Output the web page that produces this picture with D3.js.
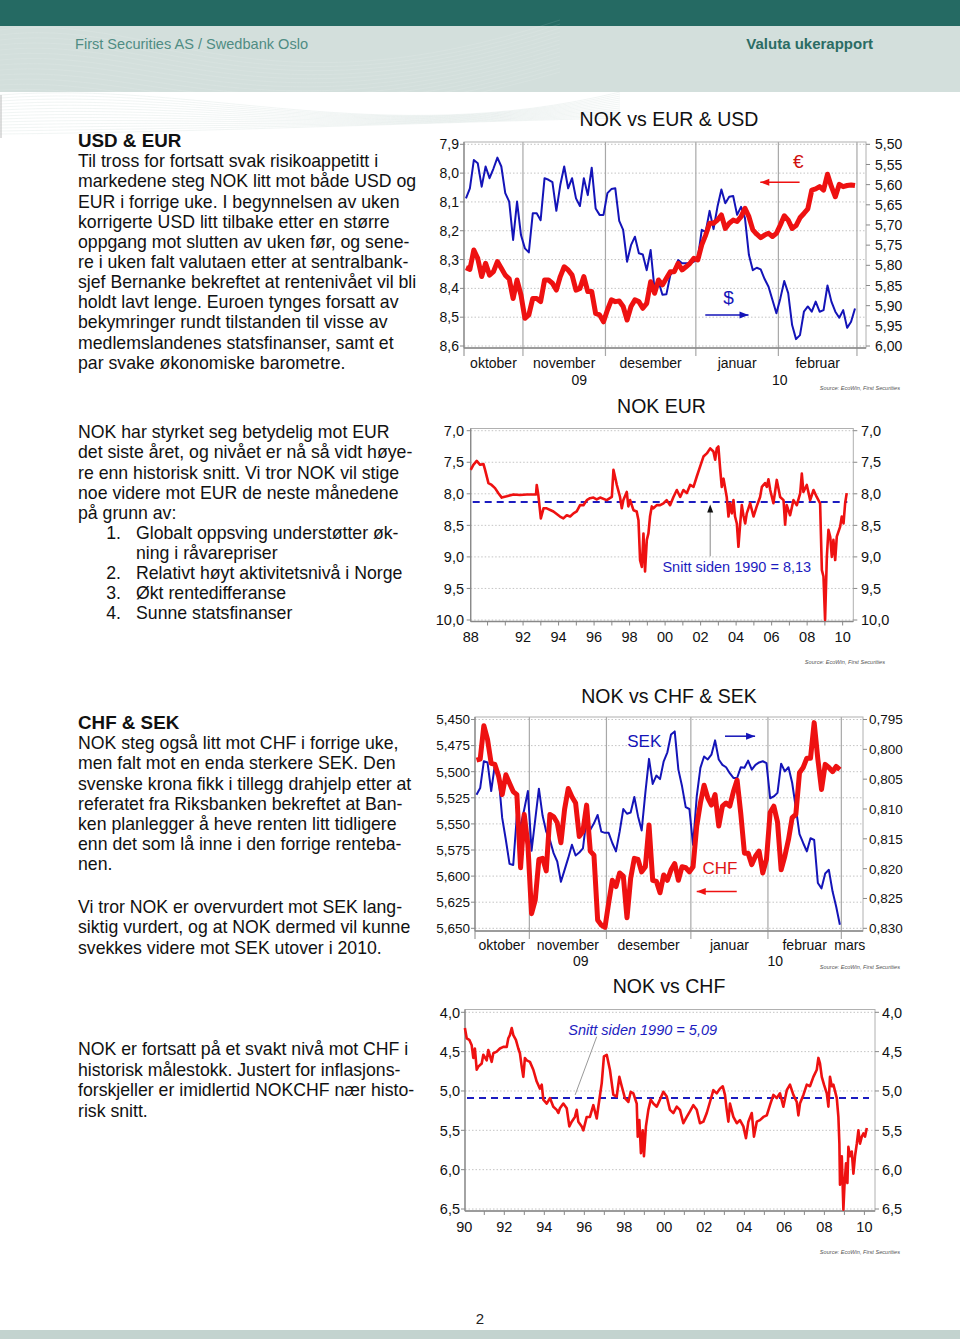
<!DOCTYPE html>
<html><head><meta charset="utf-8">
<script src="https://cdn.jsdelivr.net/npm/d3@7/dist/d3.min.js"></script>
<style>
html,body{margin:0;padding:0;background:#fff;}
svg{display:block;}
text{font-family:"Liberation Sans",Arial,Helvetica,sans-serif;}
</style></head>
<body>
<svg id="page" width="960" height="1339"></svg>
<script>
// ---------------- DATA ----------------
// Chart 1: NOK vs EUR & USD, daily (trading days) 12 Oct 2009 - 26 Feb 2010
const monthNames1 = ["oktober","november","desember","januar","februar"];
const monthStartIdx = [15,36,59,80,100];          // trading-day index of 1st of Nov, Dec, Jan, Feb, Mar
const yearLabels = ["09","10"];
const eurDaily = [8.328,8.334,8.267,8.296,8.359,8.313,8.354,8.342,8.307,8.330,
8.354,8.367,8.435,8.371,8.423,8.504,8.492,8.435,8.435,8.446,
8.371,8.371,8.382,8.406,8.359,8.325,8.336,8.354,8.406,8.400,
8.359,8.411,8.411,8.487,8.492,8.516,8.475,8.440,8.446,8.444,
8.463,8.510,8.463,8.440,8.446,8.469,8.452,8.377,8.417,8.371,
8.388,8.365,8.342,8.342,8.313,8.336,8.325,8.313,8.296,8.301,
8.249,8.215,8.174,8.174,8.163,8.145,8.192,8.174,8.163,8.168,
8.151,8.122,8.151,8.197,8.212,8.224,8.215,8.209,8.220,8.209,
8.180,8.148,8.163,8.192,8.182,8.155,8.140,8.124,8.059,8.055,
8.047,8.059,8.004,8.047,8.082,8.039,8.047,8.043,8.041,8.043];
const usdDaily = [5.634,5.609,5.539,5.547,5.605,5.555,5.584,5.560,5.533,5.555,
5.621,5.642,5.737,5.642,5.725,5.758,5.768,5.671,5.671,5.688,
5.584,5.588,5.594,5.665,5.601,5.555,5.609,5.584,5.634,5.653,
5.584,5.626,5.558,5.659,5.675,5.675,5.621,5.611,5.609,5.690,
5.712,5.791,5.750,5.729,5.770,5.773,5.812,5.762,5.861,5.840,
5.873,5.872,5.824,5.812,5.787,5.795,5.795,5.795,5.791,5.783,
5.712,5.717,5.665,5.710,5.655,5.612,5.646,5.630,5.628,5.675,
5.655,5.683,5.774,5.812,5.806,5.810,5.834,5.853,5.886,5.919,
5.882,5.839,5.869,5.948,5.983,5.973,5.915,5.902,5.915,5.890,
5.915,5.911,5.850,5.890,5.915,5.930,5.911,5.955,5.940,5.907];
const eurTicks = [7.9,8.0,8.1,8.2,8.3,8.4,8.5,8.6];
const usdTicks = [5.50,5.55,5.60,5.65,5.70,5.75,5.80,5.85,5.90,5.95,6.00];

// Chart 2: NOK EUR long history
const eurLongYears = [1989.05,1989.20,1989.39,1989.58,1989.77,1989.86,1990.05,1990.23,1990.42,1990.61,1990.80,1991.08,1991.46,1991.83,1992.21,1992.58,1992.73,1992.77,1992.86,1993.00,1993.15,1993.33,1993.71,1994.08,1994.27,1994.46,1994.65,1994.84,1995.02,1995.21,1995.40,1995.59,1995.77,1995.96,1996.15,1996.34,1996.71,1997.00,1997.09,1997.18,1997.28,1997.46,1997.56,1997.65,1997.84,1997.93,1998.03,1998.22,1998.40,1998.50,1998.59,1998.69,1998.78,1998.87,1998.97,1999.06,1999.15,1999.25,1999.34,1999.53,1999.72,1999.91,2000.09,2000.28,2000.47,2000.66,2000.85,2001.03,2001.22,2001.41,2001.60,2001.78,2001.97,2002.16,2002.35,2002.54,2002.72,2002.82,2002.91,2003.00,2003.10,2003.19,2003.29,2003.47,2003.57,2003.66,2003.76,2003.85,2003.94,2004.04,2004.13,2004.23,2004.32,2004.41,2004.51,2004.60,2004.79,2004.98,2005.16,2005.35,2005.45,2005.63,2005.73,2005.82,2005.92,2006.10,2006.29,2006.48,2006.67,2006.76,2006.85,2007.04,2007.23,2007.42,2007.61,2007.70,2007.79,2007.98,2008.17,2008.36,2008.54,2008.73,2008.83,2008.92,2009.01,2009.11,2009.20,2009.30,2009.39,2009.48,2009.58,2009.67,2009.86,2009.95,2010.05,2010.14,2010.23];
const eurLongValues = [7.62,7.54,7.48,7.54,7.53,7.62,7.83,7.86,7.91,7.99,8.06,8.04,8.01,8.02,8.01,8.01,8.01,7.86,8.02,8.39,8.23,8.23,8.28,8.36,8.39,8.34,8.36,8.31,8.28,8.18,8.18,8.10,8.07,8.06,8.09,8.06,8.10,8.05,7.62,7.73,7.86,8.05,8.23,8.10,7.97,8.20,8.10,8.26,8.28,8.42,9.05,9.16,8.63,9.23,8.73,8.63,8.36,8.20,8.23,8.18,8.18,8.15,8.10,8.18,8.05,7.94,8.05,7.94,7.99,7.86,7.89,7.73,7.57,7.41,7.36,7.28,7.33,7.46,7.28,7.25,7.60,7.89,7.76,8.05,8.36,8.15,8.31,8.10,8.36,8.47,8.84,8.47,8.18,8.34,8.47,8.31,8.15,8.36,8.20,8.05,7.89,7.83,7.89,7.77,7.94,8.15,7.78,8.05,8.10,8.49,8.18,8.34,8.10,8.18,7.99,7.68,7.97,7.86,8.10,7.94,8.05,8.15,9.21,9.31,10.00,9.00,8.57,8.68,9.00,8.73,9.05,8.68,8.52,8.36,8.47,8.15,7.99];
const eurMean = 8.13;
const eurLongTicks = [7.0,7.5,8.0,8.5,9.0,9.5,10.0];
const eurLongXLabels = ["88","92","94","96","98","00","02","04","06","08","10"];
const eurLongXPos = [1989.05,1992,1994,1996,1998,2000,2002,2004,2006,2008,2010];

// Chart 3: NOK vs CHF & SEK, daily
const monthNames3 = ["oktober","november","desember","januar","februar","mars"];
const chfDaily = [5.489,5.488,5.456,5.469,5.492,5.493,5.504,5.522,5.503,5.511,
5.519,5.522,5.592,5.541,5.570,5.636,5.623,5.584,5.583,5.595,
5.541,5.543,5.549,5.568,5.536,5.516,5.524,5.530,5.562,5.557,
5.532,5.576,5.580,5.642,5.647,5.649,5.626,5.604,5.610,5.597,
5.600,5.640,5.602,5.583,5.584,5.596,5.591,5.551,5.604,5.605,
5.616,5.599,5.604,5.594,5.588,5.604,5.591,5.592,5.596,5.591,
5.552,5.530,5.513,5.525,5.532,5.522,5.552,5.533,5.530,5.533,
5.519,5.508,5.540,5.578,5.578,5.589,5.581,5.576,5.597,5.584,
5.539,5.533,5.548,5.594,5.581,5.565,5.544,5.541,5.501,5.496,
5.487,5.487,5.453,5.488,5.517,5.493,5.496,5.500,5.495,5.498];
const sekDaily = [0.8076,0.8065,0.8020,0.8022,0.8070,0.8026,0.8045,0.8115,0.8152,0.8192,
0.8194,0.8111,0.8129,0.8101,0.8070,0.8170,0.8118,0.8066,0.8111,0.8138,
0.8152,0.8174,0.8188,0.8222,0.8202,0.8182,0.8160,0.8178,0.8173,0.8166,
0.8115,0.8135,0.8124,0.8110,0.8138,0.8140,0.8140,0.8157,0.8171,0.8138,
0.8100,0.8108,0.8106,0.8080,0.8112,0.8136,0.8073,0.8016,0.8058,0.8044,
0.8050,0.8020,0.8005,0.7975,0.7970,0.8034,0.8062,0.8097,0.8100,0.8160,
0.8079,0.8031,0.8012,0.8017,0.8009,0.7985,0.8017,0.8026,0.8030,0.8040,
0.8048,0.8048,0.8030,0.8031,0.8019,0.8034,0.8026,0.8022,0.8020,0.8023,
0.8082,0.8079,0.8073,0.8024,0.8037,0.8030,0.8056,0.8098,0.8142,0.8157,
0.8171,0.8149,0.8152,0.8224,0.8233,0.8208,0.8202,0.8238,0.8264,0.8294];
const chfTicks = [5.450,5.475,5.500,5.525,5.550,5.575,5.600,5.625,5.650];
const sekTicks = [0.795,0.800,0.805,0.810,0.815,0.820,0.825,0.830];

// Chart 4: NOK vs CHF long history
const chfLongYears = [1990.03,1990.12,1990.25,1990.37,1990.45,1990.53,1990.62,1990.70,1990.87,1990.95,1991.12,1991.20,1991.37,1991.45,1991.62,1991.78,1991.95,1992.12,1992.20,1992.28,1992.37,1992.45,1992.58,1992.70,1992.78,1992.87,1992.95,1993.03,1993.12,1993.28,1993.45,1993.62,1993.78,1993.87,1993.95,1994.12,1994.28,1994.45,1994.62,1994.70,1994.78,1994.95,1995.12,1995.25,1995.37,1995.53,1995.62,1995.70,1995.87,1995.95,1996.12,1996.28,1996.45,1996.62,1996.70,1996.87,1996.98,1997.12,1997.28,1997.45,1997.62,1997.75,1997.87,1998.03,1998.20,1998.32,1998.45,1998.62,1998.67,1998.75,1998.83,1998.92,1998.98,1999.08,1999.20,1999.32,1999.45,1999.62,1999.78,1999.95,2000.12,2000.28,2000.45,2000.62,2000.78,2000.95,2001.12,2001.28,2001.45,2001.62,2001.78,2001.95,2002.12,2002.28,2002.45,2002.62,2002.78,2002.92,2003.03,2003.12,2003.20,2003.28,2003.45,2003.62,2003.78,2003.95,2004.08,2004.20,2004.37,2004.48,2004.62,2004.78,2004.95,2005.12,2005.28,2005.45,2005.62,2005.78,2005.95,2006.12,2006.28,2006.45,2006.62,2006.70,2006.78,2006.95,2007.12,2007.28,2007.45,2007.62,2007.70,2007.78,2007.87,2007.98,2008.12,2008.20,2008.28,2008.37,2008.45,2008.62,2008.70,2008.75,2008.78,2008.87,2008.95,2009.00,2009.08,2009.15,2009.20,2009.28,2009.37,2009.45,2009.53,2009.62,2009.70,2009.78,2009.87,2009.95,2010.03,2010.12];
const chfLongValues = [4.20,4.33,4.35,4.42,4.58,4.46,4.73,4.69,4.65,4.54,4.61,4.48,4.63,4.52,4.50,4.46,4.44,4.44,4.33,4.29,4.20,4.29,4.35,4.46,4.52,4.69,4.82,4.58,4.61,4.63,4.73,4.88,4.97,4.92,5.11,5.16,5.09,5.20,5.24,5.28,5.22,5.16,5.22,5.45,5.39,5.33,5.24,5.39,5.45,5.50,5.33,5.33,5.18,5.35,5.20,4.90,4.56,4.54,4.73,5.05,5.07,4.82,4.94,5.09,5.14,5.01,5.03,5.16,5.58,5.37,5.79,5.50,5.83,5.45,5.24,5.11,5.16,5.20,5.11,5.01,5.07,5.24,5.28,5.20,5.24,5.41,5.33,5.26,5.18,5.24,5.41,5.39,5.28,5.14,4.99,5.03,4.97,4.94,5.05,5.24,5.39,5.16,5.33,5.41,5.37,5.45,5.60,5.39,5.28,5.58,5.39,5.37,5.33,5.31,5.18,5.05,5.09,5.03,5.20,4.99,4.92,5.05,5.14,5.31,5.16,5.05,4.92,4.94,4.82,4.73,4.58,4.65,4.82,4.92,5.03,5.20,4.82,4.94,4.92,5.09,5.33,5.67,6.19,5.83,6.51,6.22,5.92,6.17,5.71,5.83,5.77,6.05,5.83,5.67,5.50,5.67,5.58,5.54,5.58,5.47];
const chfMean = 5.09;
const chfLongTicks = [4.0,4.5,5.0,5.5,6.0,6.5];
const chfLongXLabels = ["90","92","94","96","98","00","02","04","06","08","10"];
const chfLongXPos = [1990,1992,1994,1996,1998,2000,2002,2004,2006,2008,2010];

// Text blocks
const block1Title = "USD & EUR";
const block1Lines = ["Til tross for fortsatt svak risikoappetitt i","markedene steg NOK litt mot både USD og","EUR i forrige uke. I begynnelsen av uken","korrigerte USD litt tilbake etter en større","oppgang mot slutten av uken før, og sene-","re i uken falt valutaen etter at sentralbank-","sjef Bernanke bekreftet at rentenivået vil bli","holdt lavt lenge. Euroen tynges forsatt av","bekymringer rundt tilstanden til visse av","medlemslandenes statsfinanser, samt et","par svake økonomiske barometre."];
const block2Lines = ["NOK har styrket seg betydelig mot EUR","det siste året, og nivået er nå så vidt høye-","re enn historisk snitt. Vi tror NOK vil stige","noe videre mot EUR de neste månedene","på grunn av:"];
const block2List = [["1.","Globalt oppsving understøtter øk-"],["","ning i råvarepriser"],["2.","Relativt høyt aktivitetsnivå i Norge"],["3.","Økt rentedifferanse"],["4.","Sunne statsfinanser"]];
const block3Title = "CHF & SEK";
const block3Lines = ["NOK steg også litt mot CHF i forrige uke,","men falt mot en enda sterkere SEK. Den","svenske krona fikk i tillegg drahjelp etter at","referatet fra Riksbanken bekreftet at Ban-","ken planlegger å heve renten litt tidligere","enn det som lå inne i den forrige renteba-","nen."];
const block3bLines = ["Vi tror NOK er overvurdert mot SEK lang-","siktig vurdert, og at NOK dermed vil kunne","svekkes videre mot SEK utover i 2010."];
const block4Lines = ["NOK er fortsatt på et svakt nivå mot CHF i","historisk målestokk. Justert for inflasjons-","forskjeller er imidlertid NOKCHF nær histo-","risk snitt."];

// ---------------- DRAWING ----------------
const svg = d3.select("#page");
const RED = "#ee1111", BLUE = "#1414b8", GRIDC = "#c4c4c4", AXC = "#888";
const fmt = (d, n) => d.toFixed(n).replace(".", ",");

// header
svg.append("rect").attr("x",0).attr("y",0).attr("width",960).attr("height",26).attr("fill","#256a63");
svg.append("rect").attr("x",0).attr("y",26).attr("width",960).attr("height",66).attr("fill","#d3dfdc");
const waves = svg.append("g").attr("fill","none").attr("stroke","#ffffff");
d3.range(14).forEach(i => {
  waves.append("path")
    .attr("d", `M0,${30+i*5} C150,${10+i*6} 260,${120+i*3} 560,${20+i*4}`)
    .attr("stroke-opacity", 0.10).attr("stroke-width",1);
  waves.append("path")
    .attr("d", `M0,${95+i*3} C200,${80+i*4} 380,${150-i*2} 620,${92+i*2}`)
    .attr("stroke","#c8d6d3").attr("stroke-opacity",0.25).attr("stroke-width",1);
});
svg.append("text").attr("x",75).attr("y",49).attr("font-size",15)
  .attr("font-family","'DejaVu Sans Condensed','Liberation Sans Narrow',Arial")
  .attr("textLength",233).attr("lengthAdjust","spacingAndGlyphs")
  .attr("fill","#4f8c83").text("First Securities AS / Swedbank Oslo");
svg.append("text").attr("x",873).attr("y",49).attr("font-size",15).attr("font-weight","bold")
  .attr("font-family","'DejaVu Sans Condensed','Liberation Sans Narrow',Arial")
  .attr("text-anchor","end").attr("fill","#2b6c64").text("Valuta ukerapport");
svg.append("line").attr("x1",1).attr("x2",1).attr("y1",95).attr("y2",138).attr("stroke","#bbb");
// footer
svg.append("rect").attr("x",0).attr("y",1330).attr("width",960).attr("height",9).attr("fill","#c3d3cf");
svg.append("text").attr("x",480).attr("y",1324).attr("font-size",15).attr("text-anchor","middle").attr("fill","#222").text("2");

// left text
const TFS = 17.7;
function textLines(lines, x, y0, step){
  lines.forEach((l,i)=> svg.append("text").attr("x",x).attr("y",y0+i*step).attr("font-size",TFS).attr("fill","#111").text(l));
}
svg.append("text").attr("x",78).attr("y",147).attr("font-size",18.8).attr("font-weight","bold").attr("fill","#111").text(block1Title);
textLines(block1Lines,78,167.2,20.15);
textLines(block2Lines,78,438.3,20.1);
block2List.forEach((r,i)=>{
  const y = 438.3 + (5+i)*20.1;
  svg.append("text").attr("x",121).attr("y",y).attr("font-size",TFS).attr("text-anchor","end").attr("fill","#111").text(r[0]);
  svg.append("text").attr("x",136).attr("y",y).attr("font-size",TFS).attr("fill","#111").text(r[1]);
});
svg.append("text").attr("x",78).attr("y",729).attr("font-size",18.8).attr("font-weight","bold").attr("fill","#111").text(block3Title);
textLines(block3Lines,78,749.3,20.15);
textLines(block3bLines,78,913.3,20.1);
textLines(block4Lines,78,1055,20.5);

// generic helpers
function frame(g, x0, x1, y0, y1){
  g.append("rect").attr("x",x0).attr("y",y0).attr("width",x1-x0).attr("height",y1-y0)
   .attr("fill","none").attr("stroke","#b0b0b0").attr("stroke-width",1);
  g.append("line").attr("x1",x0).attr("x2",x0).attr("y1",y0).attr("y2",y1).attr("stroke",AXC).attr("stroke-width",1.3);
  g.append("line").attr("x1",x0).attr("x2",x1).attr("y1",y1).attr("y2",y1).attr("stroke",AXC).attr("stroke-width",1.3);
}
function hgrid(g, ticks, y, x0, x1){
  g.selectAll(null).data(ticks).enter().append("line")
   .attr("x1",x0).attr("x2",x1).attr("y1",d=>y(d)).attr("y2",d=>y(d))
   .attr("stroke",GRIDC).attr("stroke-width",1).attr("stroke-dasharray","1.5,2");
}
function yLabels(g, ticks, y, x, anchor, nd, fs, axisX, dir){
  g.selectAll(null).data(ticks).enter().append("text")
   .attr("x",x).attr("y",d=>y(d)).attr("dy","0.36em").attr("text-anchor",anchor)
   .attr("font-size",fs).attr("fill","#111").text(d=>fmt(d,nd));
  g.selectAll(null).data(ticks).enter().append("line")
   .attr("x1",axisX).attr("x2",axisX+dir*4).attr("y1",d=>y(d)).attr("y2",d=>y(d))
   .attr("stroke",AXC);
}
function title(t, x, y){
  svg.append("text").attr("x",x).attr("y",y).attr("font-size",19.5).attr("text-anchor","middle").attr("fill","#111").text(t);
}
function source(x, y){
  svg.append("text").attr("x",x).attr("y",y).attr("font-size",5.6).attr("font-style","italic")
   .attr("text-anchor","end").attr("fill","#555").text("Source: EcoWin, First Securities");
}
function arrow(g, xa, ya, xb, yb, color){
  g.append("line").attr("x1",xa).attr("y1",ya).attr("x2",xb).attr("y2",yb).attr("stroke",color).attr("stroke-width",1.5);
  const dir = Math.sign(xb-xa);
  g.append("path").attr("d",`M${xb},${yb} L${xb-dir*9},${yb-3.5} L${xb-dir*9},${yb+3.5} Z`).attr("fill",color);
}

// ---- Chart 1
(function(){
  const g = svg.append("g");
  const X0=464, X1=866, Y0=142, Y1=348;
  const x = d3.scaleLinear().domain([0,102.3]).range([X0,X1]);
  const yL = d3.scaleLinear().domain([7.9,8.6]).range([144.3,346]);
  const yR = d3.scaleLinear().domain([5.5,6.0]).range([144.3,346]);
  title("NOK vs EUR & USD",669,126);
  hgrid(g, eurTicks, yL, X0, X1);
  g.selectAll(null).data(monthStartIdx).enter().append("line")
   .attr("x1",d=>x(d)).attr("x2",d=>x(d)).attr("y1",Y0).attr("y2",Y1+8).attr("stroke","#a8a8a8").attr("stroke-width",1.2);
  frame(g,X0,X1,Y0,Y1);
  g.append("line").attr("x1",X0).attr("x2",X0).attr("y1",Y1).attr("y2",Y1+8).attr("stroke",AXC);
  yLabels(g, eurTicks, yL, 459, "end", 1, 14, X0, -1);
  yLabels(g, usdTicks, yR, 875, "start", 2, 14, X1, 1);
  const bounds = [0].concat(monthStartIdx);
  monthNames1.forEach((m,i)=>{
    g.append("text").attr("x",x((bounds[i]+bounds[i+1])/2)).attr("y",368).attr("font-size",14)
     .attr("text-anchor","middle").attr("fill","#111").text(m);
  });
  g.append("text").attr("x",x((monthStartIdx[0]+monthStartIdx[1])/2)+15).attr("y",385).attr("font-size",14).attr("text-anchor","middle").attr("fill","#111").text(yearLabels[0]);
  g.append("text").attr("x",x(monthStartIdx[2])+84).attr("y",385).attr("font-size",14).attr("text-anchor","middle").attr("fill","#111").text(yearLabels[1]);
  const lineUsd = d3.line().x((d,i)=>x(i+0.5)).y(d=>yR(d));
  const lineEur = d3.line().x((d,i)=>x(i+0.5)).y(d=>yL(d));
  g.append("path").attr("d",lineUsd(usdDaily)).attr("fill","none").attr("stroke",BLUE).attr("stroke-width",2).attr("stroke-linejoin","round");
  g.append("path").attr("d",lineEur(eurDaily)).attr("fill","none").attr("stroke",RED).attr("stroke-width",5).attr("stroke-linejoin","round");
  // annotations
  g.append("text").attr("x",x(85.1)).attr("y",yL(7.96)).attr("dy","0.36em").attr("font-size",19).attr("text-anchor","middle").attr("fill","#d01010").text("€");
  arrow(g, x(85.4), yL(8.032), x(75.4), yL(8.032), RED);
  g.append("text").attr("x",x(67.3)).attr("y",yR(5.878)).attr("dy","0.36em").attr("font-size",19).attr("text-anchor","middle").attr("fill",BLUE).text("$");
  arrow(g, x(61.4), yR(5.923), x(72.4), yR(5.923), BLUE);
  source(900,390);
})();

// ---- Chart 2
(function(){
  const g = svg.append("g");
  const X0=470.7, X1=853.3, Y0=428.5, Y1=621.5;
  const x = d3.scaleLinear().domain([1989.05,2010.6]).range([X0,X1]);
  const y = d3.scaleLinear().domain([7,10]).range([430.7,620]);
  title("NOK EUR",661.5,413);
  hgrid(g, eurLongTicks, y, X0, X1);
  frame(g,X0,X1,Y0,Y1);
  yLabels(g, eurLongTicks, y, 464, "end", 1, 14.5, X0, -1);
  yLabels(g, eurLongTicks, y, 861, "start", 1, 14.5, X1, 1);
  g.selectAll(null).data(d3.range(1990,2011)).enter().append("line")
   .attr("x1",d=>x(d)).attr("x2",d=>x(d)).attr("y1",Y1).attr("y2",Y1+4).attr("stroke",AXC);
  g.selectAll(null).data(eurLongXLabels).enter().append("text")
   .attr("x",(d,i)=>x(eurLongXPos[i])).attr("y",642).attr("font-size",14.5).attr("text-anchor","middle").attr("fill","#111").text(d=>d);
  g.append("line").attr("x1",X0+2).attr("x2",X1-6).attr("y1",y(eurMean)).attr("y2",y(eurMean))
   .attr("stroke","#1c1cc0").attr("stroke-width",2).attr("stroke-dasharray","7,5");
  const ln = d3.line().x((d,i)=>x(eurLongYears[i])).y(d=>y(d));
  g.append("path").attr("d",ln(eurLongValues)).attr("fill","none").attr("stroke",RED).attr("stroke-width",2.6).attr("stroke-linejoin","round");
  g.append("line").attr("x1",x(2002.54)).attr("x2",x(2002.54)).attr("y1",y(8.99)).attr("y2",y(8.22)).attr("stroke","#888").attr("stroke-width",1);
  g.append("path").attr("d",`M${x(2002.54)},${y(8.17)} l-3,8 l6,0 Z`).attr("fill","#111");
  g.append("text").attr("x",x(1999.85)).attr("y",y(9.16)).attr("dy","0.36em").attr("font-size",14.5).attr("fill","#1c1cc0").text("Snitt siden 1990 = 8,13");
  source(885,664);
})();

// ---- Chart 3
(function(){
  const g = svg.append("g");
  const X0=475, X1=863, Y0=717, Y1=931;
  const x = d3.scaleLinear().domain([0,105.9]).range([474.3,863]);
  const yL = d3.scaleLinear().domain([5.45,5.65]).range([719.5,928.3]);
  const yR = d3.scaleLinear().domain([0.795,0.830]).range([719.5,928.3]);
  title("NOK vs CHF & SEK",669,703);
  hgrid(g, chfTicks, yL, X0, X1);
  g.selectAll(null).data(monthStartIdx).enter().append("line")
   .attr("x1",d=>x(d)).attr("x2",d=>x(d)).attr("y1",Y0).attr("y2",Y1+8).attr("stroke","#a8a8a8").attr("stroke-width",1.2);
  frame(g,X0,X1,Y0,Y1);
  g.append("line").attr("x1",X0).attr("x2",X0).attr("y1",Y1).attr("y2",Y1+8).attr("stroke",AXC);
  yLabels(g, chfTicks, yL, 470, "end", 3, 13.5, X0, -1);
  yLabels(g, sekTicks, yR, 869, "start", 3, 13.5, X1, 1);
  const bounds = [0].concat(monthStartIdx).concat([105.9]);
  monthNames3.forEach((m,i)=>{
    const cx = i===5 ? x(102.3) : x((bounds[i]+bounds[i+1])/2);
    g.append("text").attr("x",cx).attr("y",949.5).attr("font-size",14)
     .attr("text-anchor","middle").attr("fill","#111").text(m);
  });
  g.append("text").attr("x",x(29)).attr("y",966).attr("font-size",14).attr("text-anchor","middle").attr("fill","#111").text(yearLabels[0]);
  g.append("text").attr("x",x(82)).attr("y",966).attr("font-size",14).attr("text-anchor","middle").attr("fill","#111").text(yearLabels[1]);
  const lS = d3.line().x((d,i)=>x(i+0.6)).y(d=>yR(d));
  const lC = d3.line().x((d,i)=>x(i+0.6)).y(d=>yL(d));
  g.append("path").attr("d",lS(sekDaily)).attr("fill","none").attr("stroke",BLUE).attr("stroke-width",2).attr("stroke-linejoin","round");
  g.append("path").attr("d",lC(chfDaily)).attr("fill","none").attr("stroke",RED).attr("stroke-width",5).attr("stroke-linejoin","round");
  g.append("text").attr("x",x(46.3)).attr("y",yR(0.7985)).attr("dy","0.36em").attr("font-size",17).attr("text-anchor","middle").attr("fill",BLUE).text("SEK");
  arrow(g, x(68.3), yR(0.7978), x(76.5), yR(0.7978), BLUE);
  g.append("text").attr("x",x(66.9)).attr("y",yL(5.5924)).attr("dy","0.36em").attr("font-size",17).attr("text-anchor","middle").attr("fill","#e01515").text("CHF");
  arrow(g, x(71.5), yL(5.6148), x(60.6), yL(5.6148), RED);
  source(900,969);
})();

// ---- Chart 4
(function(){
  const g = svg.append("g");
  const X0=465, X1=875, Y0=1009.5, Y1=1211;
  const x = d3.scaleLinear().domain([1990,2010.53]).range([464.3,875]);
  const y = d3.scaleLinear().domain([4,6.5]).range([1012.3,1209]);
  title("NOK vs CHF",669,993);
  hgrid(g, chfLongTicks, y, X0, X1);
  frame(g,X0,X1,Y0,Y1);
  yLabels(g, chfLongTicks, y, 460, "end", 1, 14.5, X0, -1);
  yLabels(g, chfLongTicks, y, 882, "start", 1, 14.5, X1, 1);
  g.selectAll(null).data(d3.range(1991,2011)).enter().append("line")
   .attr("x1",d=>x(d)).attr("x2",d=>x(d)).attr("y1",Y1).attr("y2",Y1+4).attr("stroke",AXC);
  g.selectAll(null).data(chfLongXLabels).enter().append("text")
   .attr("x",(d,i)=>x(chfLongXPos[i])).attr("y",1232).attr("font-size",14.5).attr("text-anchor","middle").attr("fill","#111").text(d=>d);
  g.append("line").attr("x1",X0+2).attr("x2",X1-6).attr("y1",y(chfMean)).attr("y2",y(chfMean))
   .attr("stroke","#1c1cc0").attr("stroke-width",2).attr("stroke-dasharray","7,5");
  g.append("line").attr("x1",x(1996.62)).attr("y1",y(4.31)).attr("x2",x(1995.54)).attr("y2",y(5.05)).attr("stroke","#999").attr("stroke-width",1);
  const ln = d3.line().x((d,i)=>x(chfLongYears[i])).y(d=>y(d));
  g.append("path").attr("d",ln(chfLongValues)).attr("fill","none").attr("stroke",RED).attr("stroke-width",2.6).attr("stroke-linejoin","round");
  g.append("text").attr("x",x(1995.2)).attr("y",y(4.225)).attr("dy","0.36em").attr("font-size",14.5).attr("font-style","italic").attr("fill","#1c1cc0").text("Snitt siden 1990 = 5,09");
  source(900,1254);
})();
</script>
</body></html>
